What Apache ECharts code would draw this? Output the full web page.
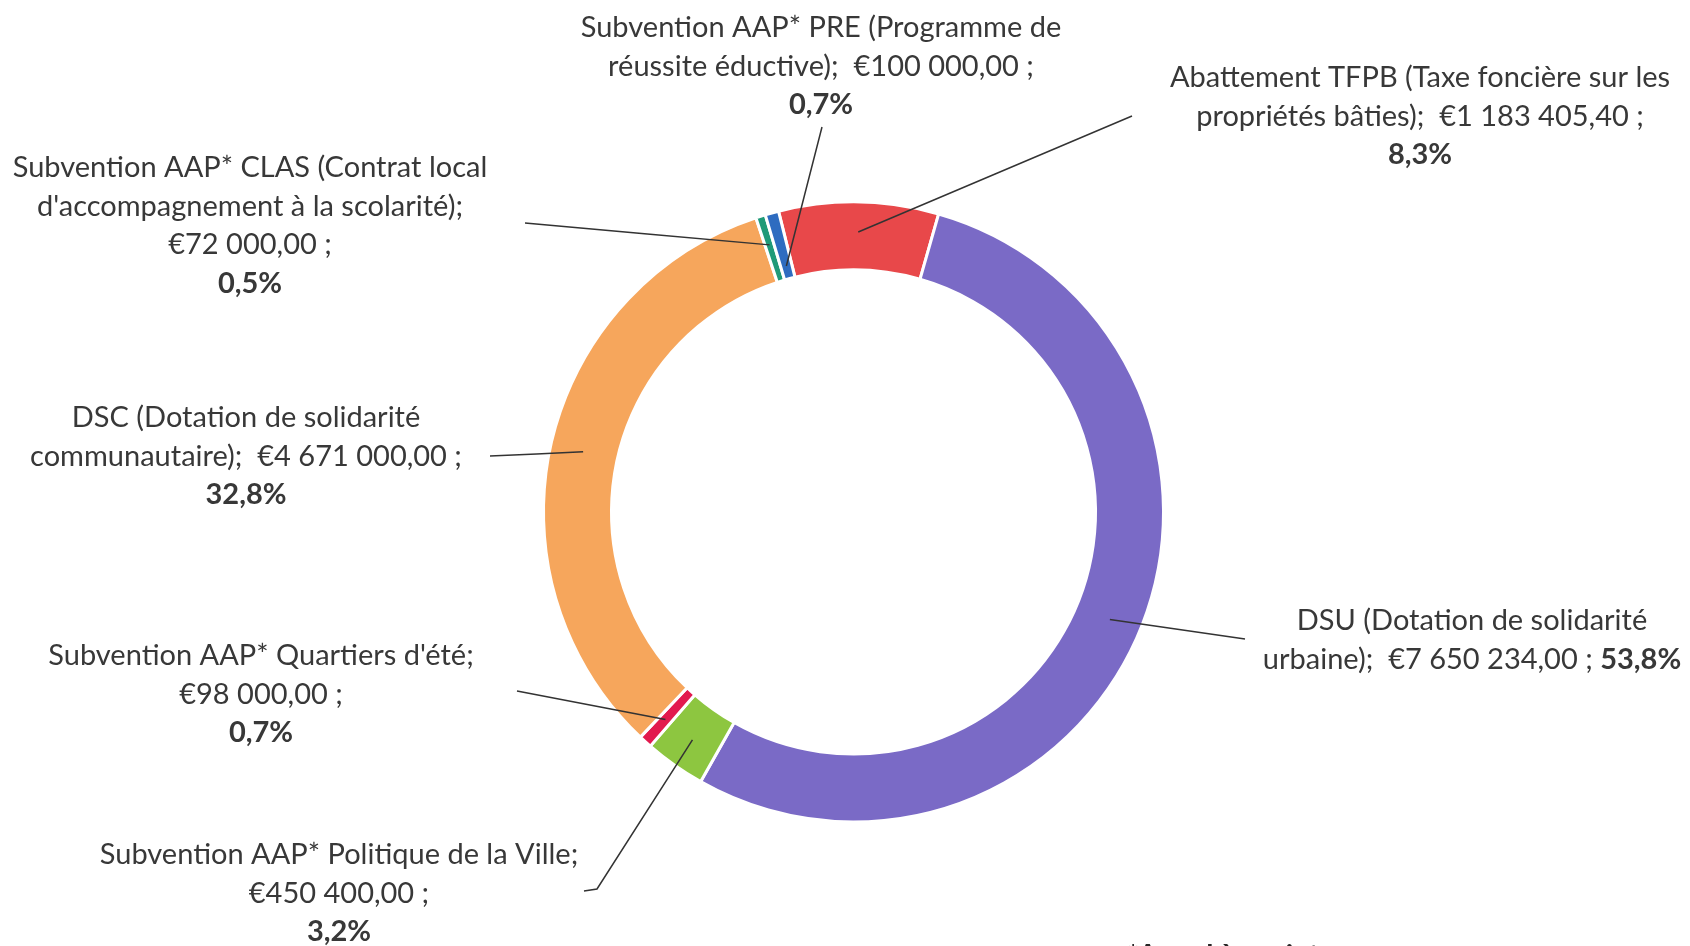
<!DOCTYPE html>
<html>
<head>
<meta charset="utf-8">
<title>Financement politique de la ville</title>
<script src="https://cdn.jsdelivr.net/npm/echarts@6/dist/echarts.min.js"></script>
<style>
  html, body { margin: 0; padding: 0; background: #fff; }
  #chart { width: 1690px; height: 946px; }
</style>
</head>
<body>
<div id="chart"></div>
<script>
// données (ordre horaire, en partant du TFPB)
var categories = [
  'Abattement TFPB (Taxe foncière sur les\npropriétés bâties);',
  'DSU (Dotation de solidarité\nurbaine);',
  'Subvention AAP* Politique de la Ville;',
  'Subvention AAP* Quartiers d\'été;',
  'DSC (Dotation de solidarité\ncommunautaire);',
  'Subvention AAP* CLAS (Contrat local\nd\'accompagnement à la scolarité);',
  'Subvention AAP* PRE (Programme de\nréussite éductive);'
];
var values = [1183405.40, 7650234.00, 450400.00, 98000.00, 4671000.00, 72000.00, 100000.00];
var colors = ['#e8484a', '#7a6ac6', '#8dc640', '#e21a4e', '#f6a65c', '#1f9a78', '#2e6cc0'];

// coupures des étiquettes : entre nom et montant, entre montant et %
var sepValue = ['  ', '  ', '\n', '\n', '  ', '\n', '  '];
var sepPct = ['\n', ' ', '\n', '\n', '\n', '\n', '\n'];

// placement des étiquettes : centre x, centre de la 1re ligne y
var labelPos = [[1420, 78], [1472, 621], [339, 855], [261, 656], [246, 418], [250, 168], [821, 28]];
// début du trait de rappel côté étiquette (+ coude éventuel)
var lineStart = [[1132, 116], [1245, 639], [584, 891], [517, 691], [490, 456], [525, 223], [822, 127]];
var lineElbow = [null, null, [597, 889], null, null, null, null];
var lineEndR = [280, 278, 279, 280, 277, 280, 255];

var CX = 853.5, CY = 512, R_IN = 242, R_OUT = 310;
var START = 104;
var LH = 38.5;
var FS = 29;
var TXT = '#383838';

var total = values.reduce(function (a, b) { return a + b; }, 0);

function fmtEuro(v) {
  var parts = v.toFixed(2).split('.');
  var ent = parts[0].replace(/\B(?=(\d{3})+(?!\d))/g, ' ');
  return '€' + ent + ',' + parts[1];
}
function fmtPct(v) {
  return (v / total * 100).toFixed(1).replace('.', ',') + '%';
}

// angle milieu de chaque part (degrés, horaire depuis midi)
var midAngles = [];
var cum = 0;
values.forEach(function (v) {
  midAngles.push((90 - START) + 360 * (cum + v / 2) / total);
  cum += v;
});

var chart = echarts.init(document.getElementById('chart'));

var pieData = values.map(function (v, i) {
  return { name: categories[i], value: v, itemStyle: { color: colors[i] } };
});

chart.setOption({
  backgroundColor: '#fff',
  animation: false,
  graphic: [{
    type: 'text',
    left: 1127,
    top: 941,
    style: {
      text: '*Appel à projet',
      font: 'bold 29px Lato',
      fill: '#262626'
    }
  }],
  series: [{
    // anneau
    type: 'pie',
    z: 2,
    center: [CX, CY],
    radius: [R_IN, R_OUT],
    startAngle: START,
    clockwise: true,
    silent: true,
    emphasis: { disabled: true },
    itemStyle: { borderColor: '#fff', borderWidth: 3 },
    label: { show: false },
    labelLine: { show: false },
    data: pieData
  }, {
    // étiquettes et traits par-dessus l'anneau
    type: 'pie',
    z: 5,
    center: [CX, CY],
    radius: [R_IN, R_OUT],
    startAngle: START,
    clockwise: true,
    silent: true,
    avoidLabelOverlap: false,
    emphasis: { disabled: true },
    itemStyle: { color: 'rgba(0,0,0,0)', borderWidth: 0 },
    label: {
      show: true,
      position: 'outside',
      color: TXT,
      fontFamily: 'Lato',
      fontSize: FS,
      lineHeight: LH,
      align: 'center',
      formatter: function (p) {
        var i = p.dataIndex;
        return '{n|' + categories[i] + sepValue[i] + fmtEuro(values[i]) + ' ;' + sepPct[i] + '}{b|' + fmtPct(values[i]) + '}';
      },
      rich: {
        n: { color: TXT, fontFamily: 'Lato', fontSize: FS, lineHeight: LH },
        b: { color: TXT, fontFamily: 'Lato', fontSize: FS, fontWeight: 'bold', lineHeight: LH }
      }
    },
    labelLine: {
      show: true,
      lineStyle: { color: '#333333', width: 1.5 }
    },
    labelLayout: function (params) {
      var i = params.dataIndex;
      var a = midAngles[i] * Math.PI / 180;
      var ex = CX + lineEndR[i] * Math.sin(a);
      var ey = CY - lineEndR[i] * Math.cos(a);
      var s = lineStart[i];
      var m = lineElbow[i] || [(s[0] + ex) / 2, (s[1] + ey) / 2];
      return {
        x: labelPos[i][0],
        y: labelPos[i][1] - LH / 2,
        align: 'center',
        verticalAlign: 'top',
        labelLinePoints: [[s[0], s[1]], [m[0], m[1]], [ex, ey]]
      };
    },
    data: values.map(function (v, i) {
      return { name: categories[i], value: v };
    })
  }]
});
</script>
</body>
</html>
